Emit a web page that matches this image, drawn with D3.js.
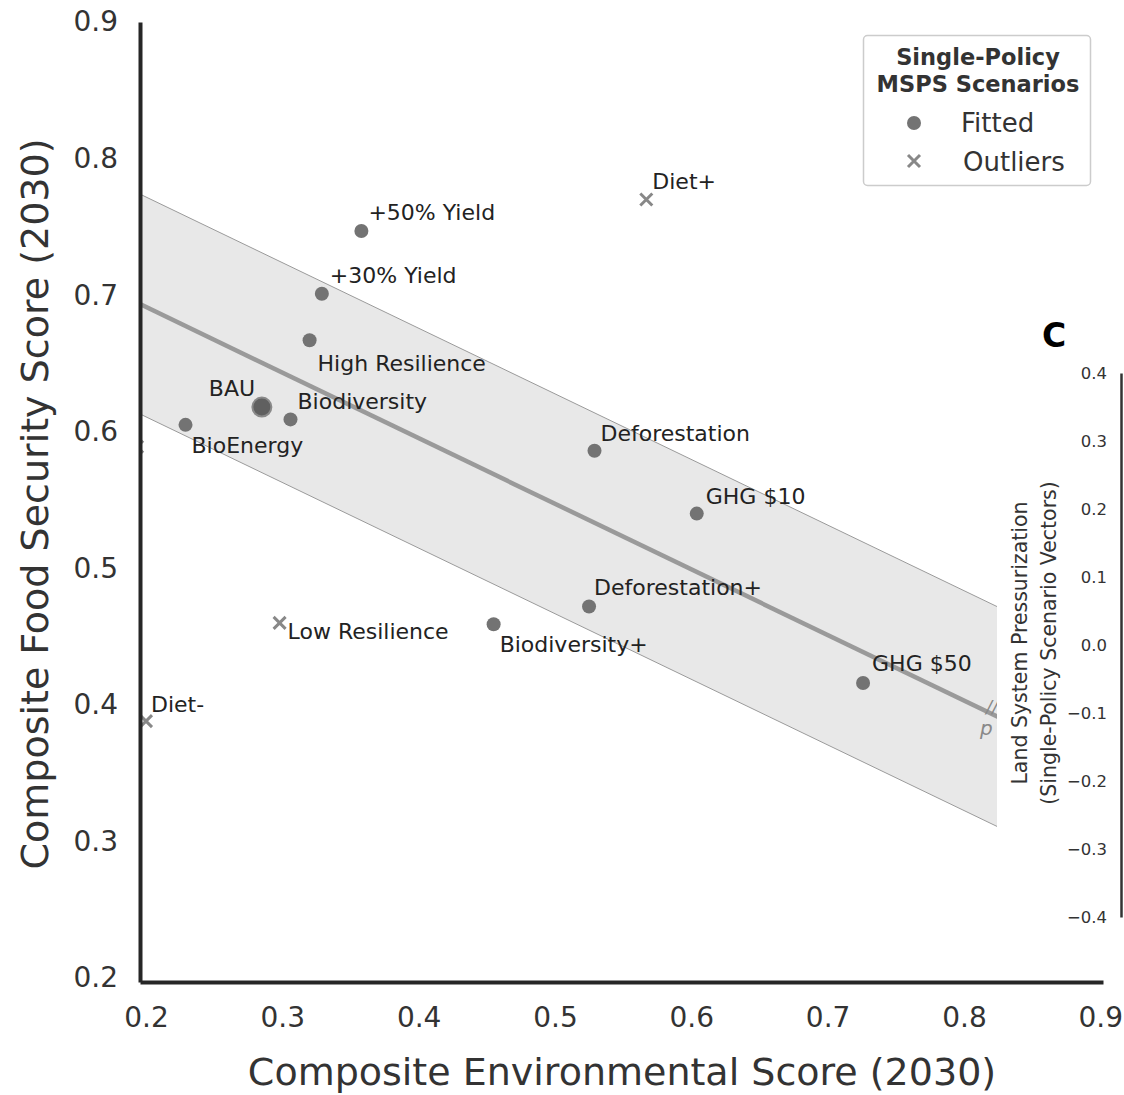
<!DOCTYPE html>
<html lang="en">
  <head>
    <meta charset="utf-8">
    <title>Food security vs environmental score</title>
    <style>
      body { margin: 0; background: #fff; }
      svg { font-family: "DejaVu Sans", sans-serif; }
      .tick text { fill: #333; }
      .pt-label { font-size: 22px; fill: #222; }
    </style>
  </head>
  <body>
<svg id="chart" width="1124" height="1095"></svg>
<script src="https://cdn.jsdelivr.net/npm/d3@7/dist/d3.min.js"></script>
<script>

// fitted single-policy scenarios (env score, food score)
var fittedNames = ["+50% Yield", "+30% Yield", "High Resilience", "BAU", "Biodiversity", "BioEnergy",
                   "Deforestation", "GHG $10", "Deforestation+", "Biodiversity+", "GHG $50"];
var fittedEnv  = [0.358, 0.329, 0.320, 0.285, 0.306, 0.229, 0.529, 0.604, 0.525, 0.455, 0.726];
var fittedFood = [0.747, 0.701, 0.667, 0.618, 0.609, 0.605, 0.586, 0.540, 0.472, 0.459, 0.416];

// outliers
var outlierNames = ["Diet+", "Low Resilience", "Diet-", ""];
var outlierEnv  = [0.567, 0.298, 0.200, 0.1935];
var outlierFood = [0.770, 0.460, 0.388, 0.589];

var xTicks = [0.2, 0.3, 0.4, 0.5, 0.6, 0.7, 0.8, 0.9];
var yTicks = [0.2, 0.3, 0.4, 0.5, 0.6, 0.7, 0.8, 0.9];
var cTicks = [-0.4, -0.3, -0.2, -0.1, 0.0, 0.1, 0.2, 0.3, 0.4];
var bandHalf = 0.0805;

// label offsets in px (dx, dy to baseline)
var labelOff = {
  "+50% Yield": [7, -11], "+30% Yield": [8, -11], "High Resilience": [8, 31],
  "BAU": [-53, -11], "Biodiversity": [7, -10], "BioEnergy": [6, 28],
  "Deforestation": [6, -10], "GHG $10": [9, -10], "Deforestation+": [5, -11],
  "Biodiversity+": [6, 28], "GHG $50": [9, -12],
  "Diet+": [6, -11], "Low Resilience": [8, 16], "Diet-": [5, -9]
};

var svg = d3.select("#chart");

var x = d3.scaleLinear().domain([0.1956, 0.902]).range([140, 1103]);
var y = d3.scaleLinear().domain([0.197, 0.9]).range([982, 22]);

var fitted = fittedNames.map(function (n, i) { return {name: n, x: fittedEnv[i], y: fittedFood[i]}; });
var outliers = outlierNames.map(function (n, i) { return {name: n, x: outlierEnv[i], y: outlierFood[i]}; });

// least squares fit over fitted points
var mx = d3.mean(fitted, function (d) { return d.x; });
var my = d3.mean(fitted, function (d) { return d.y; });
var sxy = d3.sum(fitted, function (d) { return (d.x - mx) * (d.y - my); });
var sxx = d3.sum(fitted, function (d) { return (d.x - mx) * (d.x - mx); });
var slope = sxy / sxx;
var icpt = my - slope * mx;
var fitX = x.domain();
var fitLine = fitX.map(function (v) { return {x: v, y: icpt + slope * v}; });

svg.append("clipPath").attr("id", "plotclip")
   .append("rect").attr("x", 140).attr("y", 22).attr("width", 963).attr("height", 960);

var plot = svg.append("g").attr("clip-path", "url(#plotclip)");

var area = d3.area()
    .x(function (d) { return x(d.x); })
    .y0(function (d) { return y(d.y - bandHalf); })
    .y1(function (d) { return y(d.y + bandHalf); });

plot.append("path").datum(fitLine)
    .attr("d", area).attr("fill", "#e8e8e8").attr("stroke", "none");

[bandHalf, -bandHalf].forEach(function (o) {
  plot.append("path").datum(fitLine)
      .attr("d", d3.line().x(function (d) { return x(d.x); }).y(function (d) { return y(d.y + o); }))
      .attr("fill", "none").attr("stroke", "#9a9a9a").attr("stroke-width", 1);
});

plot.append("path").datum(fitLine)
    .attr("d", d3.line().x(function (d) { return x(d.x); }).y(function (d) { return y(d.y); }))
    .attr("fill", "none").attr("stroke", "#9a9a9a").attr("stroke-width", 4.5);

// clipped annotation near the right edge
plot.append("text").attr("x", 986).attr("y", 713).attr("font-size", 18)
    .attr("font-style", "italic").attr("fill", "#888").text("//");
plot.append("text").attr("x", 980).attr("y", 735).attr("font-size", 20)
    .attr("font-style", "italic").attr("fill", "#888").text("p");

plot.selectAll("circle.fit").data(fitted).enter().append("circle")
    .attr("class", "fit")
    .attr("cx", function (d) { return x(d.x); })
    .attr("cy", function (d) { return y(d.y); })
    .attr("r", function (d) { return d.name === "BAU" ? 9.5 : 7; })
    .attr("fill", function (d) { return d.name === "BAU" ? "#606060" : "#737373"; })
    .attr("stroke", function (d) { return d.name === "BAU" ? "#8a8a8a" : "none"; })
    .attr("stroke-width", 2);

var xs = 6;
plot.selectAll("path.out").data(outliers).enter().append("path")
    .attr("class", "out")
    .attr("d", function (d) {
      var cx = x(d.x), cy = y(d.y);
      return "M" + (cx - xs) + "," + (cy - xs) + "L" + (cx + xs) + "," + (cy + xs) +
             "M" + (cx - xs) + "," + (cy + xs) + "L" + (cx + xs) + "," + (cy - xs);
    })
    .attr("stroke", "#888").attr("stroke-width", 3).attr("fill", "none");

svg.selectAll("text.pt-label").data(fitted.concat(outliers).filter(function (d) { return d.name; }))
   .enter().append("text")
   .attr("class", "pt-label")
   .attr("x", function (d) { return x(d.x) + labelOff[d.name][0]; })
   .attr("y", function (d) { return y(d.y) + labelOff[d.name][1]; })
   .text(function (d) { return d.name; });

// axes
var fmt = d3.format(".1f");
var gx = svg.append("g").attr("transform", "translate(0,982)")
    .call(d3.axisBottom(x).tickValues(xTicks).tickFormat(fmt).tickSize(0).tickPadding(25));
var gy = svg.append("g").attr("transform", "translate(140,0)")
    .call(d3.axisLeft(y).tickValues(yTicks).tickFormat(fmt).tickSize(0).tickPadding(22));
[gx, gy].forEach(function (g) {
  g.select(".domain").attr("stroke", "#262626").attr("stroke-width", 4);
  g.selectAll(".tick text").attr("font-size", 28).attr("font-family", "DejaVu Sans");
});

svg.append("text").attr("x", 622).attr("y", 1085).attr("text-anchor", "middle")
   .attr("font-size", 38).attr("fill", "#333").text("Composite Environmental Score (2030)");
svg.append("text").attr("transform", "translate(48,504) rotate(-90)").attr("text-anchor", "middle")
   .attr("font-size", 38).attr("fill", "#333").text("Composite Food Security Score (2030)");

// legend
var lg = svg.append("g");
lg.append("rect").attr("x", 863.5).attr("y", 35.5).attr("width", 227).attr("height", 150)
  .attr("rx", 4).attr("fill", "#fff").attr("stroke", "#cccccc").attr("stroke-width", 1.5);
lg.append("text").attr("x", 978).attr("y", 65).attr("text-anchor", "middle")
  .attr("font-size", 22.5).attr("font-weight", "bold").attr("fill", "#333").text("Single-Policy");
lg.append("text").attr("x", 978).attr("y", 92).attr("text-anchor", "middle")
  .attr("font-size", 22.5).attr("font-weight", "bold").attr("fill", "#333").text("MSPS Scenarios");
lg.append("circle").attr("cx", 914).attr("cy", 123).attr("r", 7).attr("fill", "#737373");
lg.append("path").attr("d", "M908,155L920,167M908,167L920,155")
  .attr("stroke", "#888").attr("stroke-width", 3);
lg.append("text").attr("x", 961).attr("y", 132).attr("font-size", 26).attr("fill", "#333").text("Fitted");
lg.append("text").attr("x", 963).attr("y", 171).attr("font-size", 26).attr("fill", "#333").text("Outliers");

// panel C (overlapping the right edge)
svg.append("rect").attr("x", 997).attr("y", 350).attr("width", 127).attr("height", 585).attr("fill", "#fff");
svg.append("text").attr("x", 1042).attr("y", 347).attr("font-size", 33).attr("font-weight", "bold")
   .attr("fill", "#000").text("C");
var yc = d3.scaleLinear().domain([-0.4, 0.4]).range([917, 373]);
var gc = svg.append("g").attr("transform", "translate(1121,0)")
    .call(d3.axisLeft(yc).tickValues(cTicks).tickFormat(fmt).tickSize(0).tickPadding(14));
gc.select(".domain").attr("stroke", "#333").attr("stroke-width", 2.5);
gc.selectAll(".tick text").attr("font-size", 16.5).attr("font-family", "DejaVu Sans");
var cl = svg.append("text").attr("transform", "translate(1027,643) rotate(-90)")
   .attr("text-anchor", "middle").attr("font-size", 20.5).attr("fill", "#333");
cl.append("tspan").attr("x", 0).attr("dy", 0).text("Land System Pressurization");
cl.append("tspan").attr("x", 0).attr("dy", 29).text("(Single-Policy Scenario Vectors)");

</script>
  </body>
</html>
